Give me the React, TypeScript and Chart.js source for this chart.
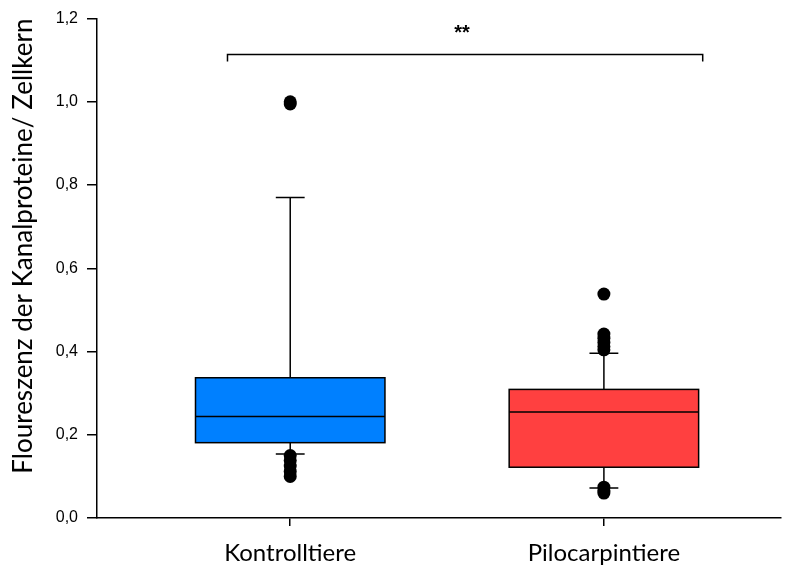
import React, { useEffect, useRef } from "react";
import { Chart, registerables } from "chart.js";

Chart.register(...registerables);

// ---- data ----
const categories = ["Kontrolltiere", "Pilocarpintiere"];
const positions = [1, 2];
const q1 = [0.181, 0.122];
const median = [0.244, 0.255];
const q3 = [0.337, 0.309];
const whiskerLow = [0.154, 0.072];
const whiskerHigh = [0.77, 0.396];
const outliersKontroll = [0.995, 1.0, 0.15, 0.138, 0.125, 0.112, 0.1];
const outliersPilo = [0.538, 0.442, 0.432, 0.422, 0.412, 0.404, 0.074, 0.066, 0.06];
const boxColors = ["#0080FF", "#FF4040"];
const significanceLabel = "**";
const bracketX = [0.8, 2.315];
const bracketY = 1.114;
const bracketEnd = 1.097;
const yTickValues = [0, 0.2, 0.4, 0.6, 0.8, 1.0, 1.2];
const yTitle = "Floureszenz der Kanalproteine/ Zellkern";

// ---- style ----
const BOX_HALF = 0.302;
const CAP_HALF = 0.046;

const boxPlugin = {
  id: "boxPlugin",
  beforeDatasetsDraw(chart: any) {
    const { ctx, scales } = chart;
    const xs = scales.x;
    const ys = scales.y;
    ctx.save();
    ctx.strokeStyle = "#000";
    ctx.lineWidth = 1.5;
    positions.forEach((p, i) => {
      const xl = xs.getPixelForValue(p - BOX_HALF);
      const xr = xs.getPixelForValue(p + BOX_HALF);
      const xc = xs.getPixelForValue(p);
      const cl = xs.getPixelForValue(p - CAP_HALF);
      const cr = xs.getPixelForValue(p + CAP_HALF);
      const yq1 = ys.getPixelForValue(q1[i]);
      const yq3 = ys.getPixelForValue(q3[i]);
      const ym = ys.getPixelForValue(median[i]);
      const ylo = ys.getPixelForValue(whiskerLow[i]);
      const yhi = ys.getPixelForValue(whiskerHigh[i]);
      ctx.beginPath();
      ctx.moveTo(xc, yq3);
      ctx.lineTo(xc, yhi);
      ctx.moveTo(cl, yhi);
      ctx.lineTo(cr, yhi);
      ctx.moveTo(xc, yq1);
      ctx.lineTo(xc, ylo);
      ctx.moveTo(cl, ylo);
      ctx.lineTo(cr, ylo);
      ctx.stroke();
      ctx.fillStyle = boxColors[i];
      ctx.fillRect(xl, yq3, xr - xl, yq1 - yq3);
      ctx.strokeRect(xl, yq3, xr - xl, yq1 - yq3);
      ctx.beginPath();
      ctx.moveTo(xl, ym);
      ctx.lineTo(xr, ym);
      ctx.stroke();
    });
    const bx0 = xs.getPixelForValue(bracketX[0]);
    const bx1 = xs.getPixelForValue(bracketX[1]);
    const by = ys.getPixelForValue(bracketY);
    const be = ys.getPixelForValue(bracketEnd);
    ctx.beginPath();
    ctx.moveTo(bx0, be);
    ctx.lineTo(bx0, by);
    ctx.lineTo(bx1, by);
    ctx.lineTo(bx1, be);
    ctx.stroke();
    ctx.fillStyle = "#000";
    ctx.font = "bold 20px 'Liberation Sans', Arial, sans-serif";
    ctx.textAlign = "center";
    ctx.textBaseline = "alphabetic";
    ctx.fillText(significanceLabel, (bx0 + bx1) / 2 - 3, by - 15);
    ctx.restore();
  },
};

export default function App() {
  const ref = useRef<HTMLCanvasElement | null>(null);
  useEffect(() => {
    document.body.style.margin = "0";
    const canvas = ref.current;
    if (!canvas) return;
    const outlierData = [
      ...outliersKontroll.map((v) => ({ x: positions[0], y: v })),
      ...outliersPilo.map((v) => ({ x: positions[1], y: v })),
    ];
    const chart = new Chart(canvas, {
      type: "scatter",
      data: {
        datasets: [
          {
            data: outlierData,
            pointRadius: 6.5,
            pointBackgroundColor: "#000",
            pointBorderColor: "#000",
            pointBorderWidth: 0,
            pointHoverRadius: 6.5,
          },
        ],
      },
      options: {
        animation: false,
        responsive: false,
        maintainAspectRatio: false,
        layout: { padding: { top: 15, right: 1, left: 0, bottom: 0 } },
        plugins: { legend: { display: false }, tooltip: { enabled: false } },
        scales: {
          x: {
            type: "linear",
            min: 0.384,
            max: 2.563,
            afterBuildTicks: (scale: any) => {
              scale.ticks = positions.map((v) => ({ value: v }));
            },
            afterFit: (scale: any) => {
              scale.height = 51;
            },
            ticks: {
              autoSkip: false,
              maxRotation: 0,
              padding: 13,
              color: "#000",
              font: { family: "Lato, 'Liberation Sans', sans-serif", size: 24 },
              callback: (v: any) => {
                const i = positions.indexOf(Number(v));
                return i >= 0 ? categories[i] : "";
              },
            },
            grid: {
              drawOnChartArea: false,
              drawTicks: true,
              tickLength: 8,
              color: "#000",
              lineWidth: 1.5,
            },
            border: { display: true, color: "#000", width: 1.5 },
          },
          y: {
            type: "linear",
            min: 0,
            max: 1.2,
            afterBuildTicks: (scale: any) => {
              scale.ticks = yTickValues.map((v) => ({ value: v }));
            },
            afterFit: (scale: any) => {
              scale.width = 97;
            },
            ticks: {
              padding: 9,
              color: "#000",
              font: { family: "'Liberation Sans', Arial, sans-serif", size: 16 },
              callback: (v: any) => Number(v).toFixed(1).replace(".", ","),
            },
            grid: {
              drawOnChartArea: false,
              drawTicks: true,
              tickLength: 10,
              color: "#000",
              lineWidth: 1.5,
            },
            border: { display: true, color: "#000", width: 1.5 },
            title: {
              display: true,
              text: yTitle,
              align: "end",
              color: "#000",
              font: { family: "Lato, 'Liberation Sans', sans-serif", size: 26 },
              padding: { top: 8, bottom: 0 },
            },
          },
        },
      },
      plugins: [boxPlugin],
    } as any);
    return () => chart.destroy();
  }, []);
  return (
    <div style={{ position: "absolute", left: 0, top: 0, width: 787, height: 569, background: "#fff" }}>
      <canvas ref={ref} width={787} height={569} style={{ width: 787, height: 569 }} />
    </div>
  );
}
